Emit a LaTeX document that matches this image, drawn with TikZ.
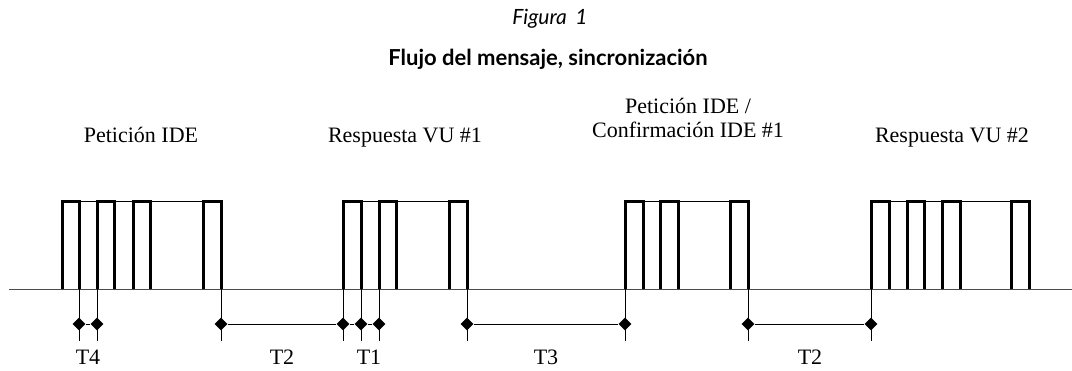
\documentclass[tikz,border=0pt]{standalone}
\usepackage{fontspec}
\setmainfont{Liberation Serif}
\newfontfamily\titlefont{Lato}
\usetikzlibrary{shapes.geometric,positioning}

\begin{document}
\begin{tikzpicture}[x=1pt,y=-1pt,
	thin line/.style={line width=1pt},
	pulse/.style={line width=3pt},
	dia/.style={diamond,fill=black,inner sep=0pt,minimum size=13pt},
	lbl/.style={font=\fontsize{22}{24}\selectfont,inner sep=0pt,anchor=base}]
	\useasboundingbox (0,0) rectangle (1072,370);
	
	\node[font=\titlefont\itshape\fontsize{21}{24}\selectfont,anchor=base] (fig) at (550,24) {Figura\hspace{0.4em}1};
	\node[font=\titlefont\bfseries\fontsize{22}{26}\selectfont,anchor=base] (title) at (548,65) {Flujo del mensaje, sincronización};
	
	\node[lbl] (req1) at (141,142) {Petición IDE};
	\node[lbl] (resp1) at (405,142) {Respuesta VU \#1};
	\node[lbl] (conf1) at (688,137) {Confirmación IDE \#1};
	\node[lbl] (req2) at (688,113) {Petición IDE /};
	\node[lbl] (resp2) at (952,142) {Respuesta VU \#2};
	
	\draw[thin line,black!70] (9,289) -- (1072,289);
	\draw[thin line] (62,201) -- (221,201) (343,201) -- (467,201)
	(625,201) -- (748,201) (871,201) -- (1029,201);
	\foreach \a/\b in {62/79,97/114,133/150,203/221,343/361,379/396,449/467,
		625/643,660/678,730/748,871/889,907/924,942/960,1011/1029}
	\draw[pulse] (\a,289) |- (\b,201) -- (\b,289);
	
	\foreach \n/\x in {0/79,1/97,2/221,3/343,4/361,5/379,6/467,7/625,8/748,9/871}{
		\draw[thin line] (\x,289) -- (\x,341);
		\node[dia] (d\n) at (\x,324) {};
	}
	\path[draw,thin line]
	(d0) edge (d1)
	(d2) edge (d3)
	(d3) edge (d4)
	(d4) edge (d5)
	(d6) edge (d7)
	(d8) edge (d9);
	
	\node[lbl] (t4) at (88,364) {T4};
	\node[lbl] (t2a) at (282,364) {T2};
	\node[lbl] (t1) at (369,364) {T1};
	\node[lbl] (t3) at (546,364) {T3};
	\node[lbl] (t2b) at (810,364) {T2};
\end{tikzpicture}
\end{document}
